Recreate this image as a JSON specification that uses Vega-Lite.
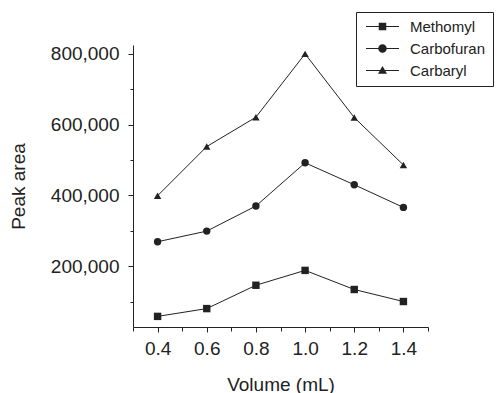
{
  "$schema": "https://vega.github.io/schema/vega-lite/v6.json",
  "width": 295,
  "height": 282,
  "autosize": "none",
  "padding": {"left": 133, "top": 45, "right": 69, "bottom": 66},
  "background": "white",
  "config": {
    "view": {"stroke": null},
    "font": "Liberation Sans",
    "axis": {"grid": false, "domainColor": "#222", "tickColor": "#222", "labelColor": "#222", "titleColor": "#222", "labelFont": "Liberation Sans", "titleFont": "Liberation Sans", "titleFontWeight": "normal", "labelFontSize": 19, "titleFontSize": 19, "labelOverlap": false, "labelBound": false}
  },
  "data": {"values": [
    {"volume": 0.4, "area": 58000, "compound": "Methomyl"},
    {"volume": 0.6, "area": 80000, "compound": "Methomyl"},
    {"volume": 0.8, "area": 146000, "compound": "Methomyl"},
    {"volume": 1.0, "area": 188000, "compound": "Methomyl"},
    {"volume": 1.2, "area": 134000, "compound": "Methomyl"},
    {"volume": 1.4, "area": 100000, "compound": "Methomyl"},
    {"volume": 0.4, "area": 269000, "compound": "Carbofuran"},
    {"volume": 0.6, "area": 299000, "compound": "Carbofuran"},
    {"volume": 0.8, "area": 370000, "compound": "Carbofuran"},
    {"volume": 1.0, "area": 492000, "compound": "Carbofuran"},
    {"volume": 1.2, "area": 430000, "compound": "Carbofuran"},
    {"volume": 1.4, "area": 366000, "compound": "Carbofuran"},
    {"volume": 0.4, "area": 399000, "compound": "Carbaryl"},
    {"volume": 0.6, "area": 538000, "compound": "Carbaryl"},
    {"volume": 0.8, "area": 621000, "compound": "Carbaryl"},
    {"volume": 1.0, "area": 800000, "compound": "Carbaryl"},
    {"volume": 1.2, "area": 620000, "compound": "Carbaryl"},
    {"volume": 1.4, "area": 486000, "compound": "Carbaryl"}
  ]},
  "layer": [
    {
      "mark": {"type": "line", "color": "#222", "strokeWidth": 1},
      "encoding": {
        "x": {"field": "volume", "type": "quantitative", "scale": {"domain": [0.3, 1.5], "nice": false, "zero": false},
              "axis": {"title": "Volume (mL)", "values": [0.3, 0.4, 0.5, 0.6, 0.7, 0.8, 0.9, 1.0, 1.1, 1.2, 1.3, 1.4, 1.5], "tickCount": 30,
                       "labelExpr": "indexof(['0.4','0.6','0.8','1.0','1.2','1.4'], format(datum.value, '.1f')) >= 0 ? format(datum.value, '.1f') : ''",
                       "tickSize": {"condition": {"test": "round(datum.value*10) % 2 === 0", "value": 5}, "value": 4},
                       "labelPadding": 7, "titlePadding": 17}},
        "y": {"field": "area", "type": "quantitative", "scale": {"domain": [28000, 825000], "nice": false, "zero": false},
              "axis": {"title": "Peak area", "values": [100000, 200000, 300000, 400000, 500000, 600000, 700000, 800000], "tickCount": 30,
                       "labelExpr": "round(datum.value/100000) % 2 === 0 ? format(datum.value, ',') : ''",
                       "tickSize": {"condition": {"test": "round(datum.value/100000) % 2 === 0", "value": 5}, "value": 3},
                       "labelPadding": 9, "titlePadding": 22}},
        "detail": {"field": "compound"}
      }
    },
    {
      "mark": {"type": "point", "filled": true, "color": "#222", "opacity": 1, "size": 55},
      "encoding": {
        "x": {"field": "volume", "type": "quantitative"},
        "y": {"field": "area", "type": "quantitative"},
        "shape": {"field": "compound", "type": "nominal", "scale": {"domain": ["Methomyl", "Carbofuran", "Carbaryl"], "range": ["square", "circle", "triangle-up"]}, "legend": null}
      }
    },
    {
      "mark": {"type": "point", "filled": true, "color": "#222", "opacity": 0},
      "encoding": {
        "x": {"field": "volume", "type": "quantitative"},
        "y": {"field": "area", "type": "quantitative"},
        "shape": {"field": "compound", "type": "nominal",
          "scale": {"domain": ["Methomyl", "Carbofuran", "Carbaryl"], "range": [
            "M-3.3,-0.1H3.3V0.1H-3.3Z M-0.75,-0.75H0.75V0.75H-0.75Z",
            "M-3.3,-0.1H3.3V0.1H-3.3Z M-0.85,0A0.85,0.85,0,1,1,0.85,0A0.85,0.85,0,1,1,-0.85,0Z",
            "M-3.3,-0.1H3.3V0.1H-3.3Z M0,-0.9L0.9,0.65H-0.9Z"
          ]},
          "legend": {"title": null, "orient": "none", "legendX": 223, "legendY": -33, "direction": "vertical",
            "strokeColor": "#222", "padding": 7, "symbolSize": 100, "symbolOffset": 12, "labelOffset": 20,
            "symbolOpacity": 1, "symbolFillColor": "#222", "symbolStrokeWidth": 0, "labelFontSize": 15, "labelFont": "Liberation Sans", "labelColor": "#222", "rowPadding": 6}
        }
      }
    }
  ],
  "resolve": {"scale": {"shape": "independent"}, "legend": {"shape": "independent"}}
}
